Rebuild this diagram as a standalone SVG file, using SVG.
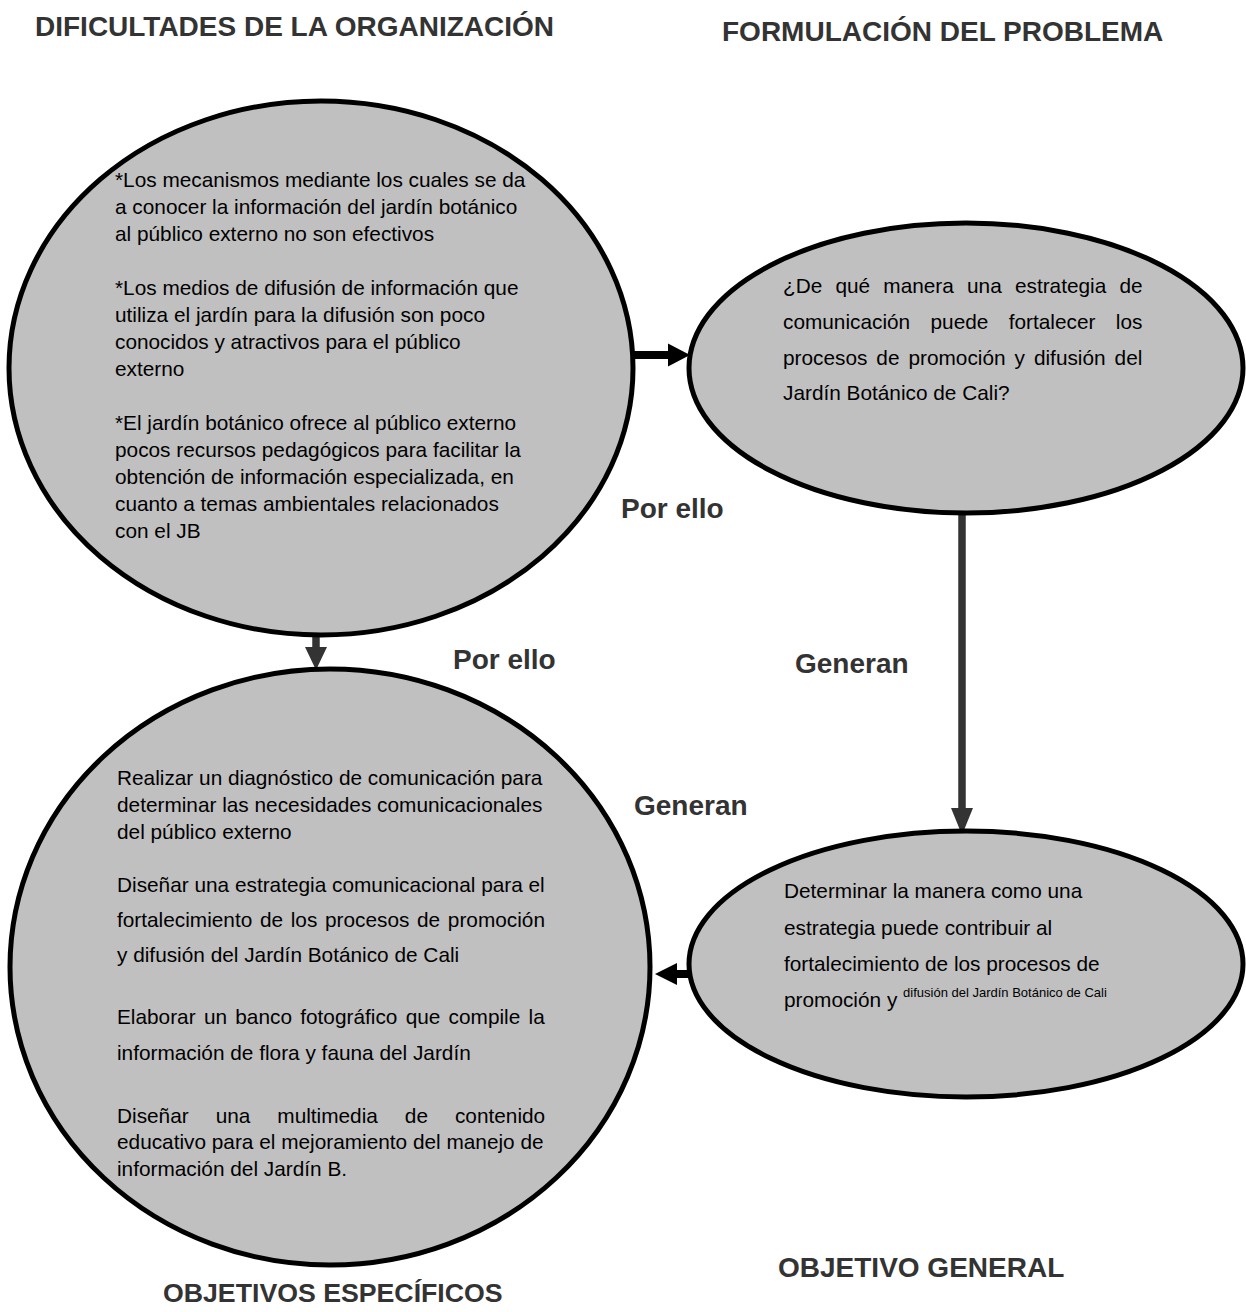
<svg xmlns="http://www.w3.org/2000/svg" width="1246" height="1312" viewBox="0 0 1246 1312">
<style>
.bg{fill:#ffffff}
.node{fill:#c0c0c0;stroke:#000;stroke-width:5}
.t{font-family:"Liberation Sans",Arial,sans-serif;font-size:20.8px;fill:#000}
.sup{font-size:13px}
.title{font-family:"Liberation Sans",Arial,sans-serif;font-size:28px;font-weight:bold;fill:#333}
.lbl{font-family:"Liberation Sans",Arial,sans-serif;font-size:28px;font-weight:bold;fill:#333}
.stemB{stroke:#000;stroke-width:8;fill:none}
.stemG{stroke:#333;stroke-width:7.5;fill:none}
.headB{fill:#000}
.headG{fill:#333}
</style>
<rect class="bg" x="0" y="0" width="1246" height="1312"/>

<g id="titles">
<text class="title" x="35" y="36">DIFICULTADES DE LA ORGANIZACIÓN</text>
<text class="title" x="722" y="41">FORMULACIÓN DEL PROBLEMA</text>
<text class="title" x="778" y="1277">OBJETIVO GENERAL</text>
<text class="title" x="163" y="1302" style="font-size:26.7px">OBJETIVOS ESPECÍFICOS</text>
</g>

<g id="connectors">
<line class="stemB" x1="633" y1="355" x2="670" y2="355"/>
<polygon class="headB" points="668,343.5 690,355 668,366.5"/>
<line class="stemG" x1="962" y1="513" x2="962" y2="810"/>
<polygon class="headG" points="951,808 973,808 962,835"/>
<line class="stemG" x1="316" y1="635" x2="316" y2="649"/>
<polygon class="headG" points="305,647 327,647 316,670"/>
<line class="stemB" x1="690" y1="974" x2="675" y2="974"/>
<polygon class="headB" points="677,963 655,974 677,985"/>
<text class="lbl" x="621" y="518">Por ello</text>
<text class="lbl" x="453" y="669">Por ello</text>
<text class="lbl" x="795" y="673">Generan</text>
<text class="lbl" x="634" y="815">Generan</text>
</g>

<g id="dificultades">
<ellipse class="node" cx="321" cy="368" rx="312" ry="267"/>
<text class="t" x="115" y="187">*Los mecanismos mediante los cuales se da</text>
<text class="t" x="115" y="214">a conocer la información del jardín botánico</text>
<text class="t" x="115" y="241">al público externo no son efectivos</text>
<text class="t" x="115" y="295">*Los medios de difusión de información que</text>
<text class="t" x="115" y="322">utiliza el jardín para la difusión son poco</text>
<text class="t" x="115" y="349">conocidos y atractivos para el público</text>
<text class="t" x="115" y="376">externo</text>
<text class="t" x="115" y="430">*El jardín botánico ofrece al público externo</text>
<text class="t" x="115" y="457">pocos recursos pedagógicos para facilitar la</text>
<text class="t" x="115" y="484">obtención de información especializada,  en</text>
<text class="t" x="115" y="511">cuanto a temas ambientales relacionados</text>
<text class="t" x="115" y="538">con el JB</text>
</g>

<g id="formulacion">
<ellipse class="node" cx="966" cy="368" rx="277" ry="145"/>
<text class="t" x="783" y="293" word-spacing="7.4">¿De qué manera una estrategia de</text>
<text class="t" x="783" y="329" word-spacing="14.6">comunicación puede fortalecer los</text>
<text class="t" x="783" y="365" word-spacing="3.2">procesos de promoción y difusión del</text>
<text class="t" x="783" y="400">Jardín  Botánico de Cali?</text>
</g>

<g id="objetivo-general">
<ellipse class="node" cx="966" cy="964" rx="277" ry="133"/>
<text class="t" x="784" y="898">Determinar la manera como una</text>
<text class="t" x="784" y="935">estrategia puede contribuir al</text>
<text class="t" x="784" y="971">fortalecimiento de los procesos de</text>
<text class="t" x="784" y="1007">promoción y <tspan class="sup" dy="-10">difusión del Jardín Botánico de Cali</tspan></text>
</g>

<g id="objetivos-especificos">
<ellipse class="node" cx="330" cy="967" rx="320" ry="298"/>
<text class="t" x="117" y="785">Realizar un diagnóstico de comunicación para</text>
<text class="t" x="117" y="812">determinar las necesidades comunicacionales</text>
<text class="t" x="117" y="839">del público externo</text>
<text class="t" x="117" y="892">Diseñar una estrategia comunicacional para el</text>
<text class="t" x="117" y="927" word-spacing="1.9">fortalecimiento de los procesos de promoción</text>
<text class="t" x="117" y="962">y difusión del Jardín Botánico de Cali</text>
<text class="t" x="117" y="1024" word-spacing="2.5">Elaborar un banco fotográfico que compile la</text>
<text class="t" x="117" y="1060">información de flora y fauna del Jardín</text>
<text class="t" x="117" y="1123" word-spacing="21.2">Diseñar una multimedia de contenido</text>
<text class="t" x="117" y="1149">educativo para el mejoramiento del manejo de</text>
<text class="t" x="117" y="1176">información del Jardín B.</text>
</g>
</svg>
